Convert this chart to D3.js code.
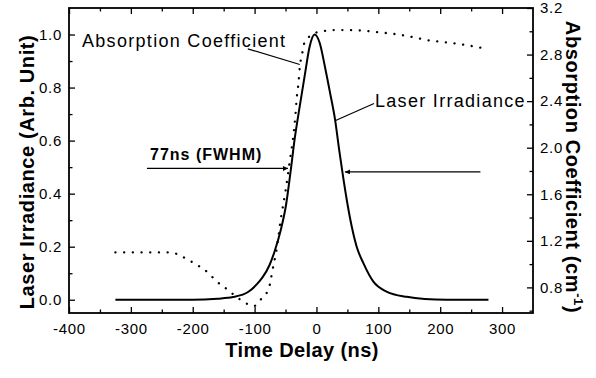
<!DOCTYPE html>
<html>
<head>
<meta charset="utf-8">
<script src="https://cdn.jsdelivr.net/npm/d3@7"></script>
<style>
    body { margin: 0; background: #fff; }
    svg { display: block; font-family: "Liberation Sans", Arial, Helvetica, sans-serif; }
</style>
</head>
<body>
<svg id="chart" width="596" height="378"></svg>
<script>
var width = 596,
    height = 378;
var margin = { top: 8, right: 63, bottom: 65, left: 69 };

// Laser irradiance (left axis)
var laser_time = [-325, -200, -160, -135, -110, -92, -87, -76, -68, -58, -49, -42, -35, -27, -19, -11, -3, 5, 14, 22, 30, 37, 42, 49, 57, 65, 76, 92, 114, 146, 175, 210, 278];
var laser_value = [0, 0, 0.004, 0.01, 0.03, 0.07, 0.085, 0.13, 0.18, 0.26, 0.36, 0.48, 0.61, 0.73, 0.845, 0.955, 1.0, 0.97, 0.875, 0.78, 0.68, 0.56, 0.48, 0.376, 0.276, 0.2, 0.137, 0.068, 0.03, 0.011, 0.003, 0, 0];

// Absorption coefficient (right axis, cm^-1)
var absorb_time = [-325, -235, -219, -205, -189, -176, -161, -146, -132, -116, -101, -88, -77, -74, -71, -65, -57, -50, -43, -37, -34, -32, -29, -27, -23, -19, -10, 0, 10, 24, 54, 103, 135, 156, 184, 200, 232, 274];
var absorb_value = [1.10, 1.10, 1.07, 1.03, 0.98, 0.93, 0.85, 0.79, 0.73, 0.67, 0.64, 0.71, 0.79, 0.86, 0.95, 1.11, 1.41, 1.63, 1.89, 2.12, 2.28, 2.42, 2.56, 2.69, 2.81, 2.91, 2.96, 2.99, 3.00, 3.01, 3.01, 2.99, 2.97, 2.95, 2.92, 2.91, 2.89, 2.85];

// Ticks
var x_ticks = [-400, -300, -200, -100, 0, 100, 200, 300];
var x_minor = [-350, -250, -150, -50, 50, 150, 250];
var left_ticks = [0.0, 0.2, 0.4, 0.6, 0.8, 1.0];
var left_minor = [0.1, 0.3, 0.5, 0.7, 0.9];
var right_ticks = [0.8, 1.2, 1.6, 2.0, 2.4, 2.8, 3.2];
var right_minor = [0.6, 1.0, 1.4, 1.8, 2.2, 2.6, 3.0];

// FWHM arrows and leader lines, in data units (time, left-axis value)
var fwhm_arrows = [
    { from: [-274, 0.495], to: [-46, 0.495] },
    { from: [265, 0.482], to: [46, 0.482] }
];
var leaders = [
    { from: [-111, 0.946], to: [-27, 0.887] },
    { from: [93, 0.74], to: [30, 0.675] }
];

var x = d3.scaleLinear().domain([-400, 350]).range([margin.left, width - margin.right]);
var yLeft = d3.scaleLinear().domain([-0.05, 1.1]).range([height - margin.bottom, margin.top]);
var yRight = d3.scaleLinear().domain([0.58, 3.2]).range([height - margin.bottom, margin.top]);

var svg = d3.select("#chart");

svg.append("defs").append("marker")
    .attr("id", "arrow")
    .attr("viewBox", "0 0 10 10")
    .attr("refX", 10)
    .attr("refY", 5)
    .attr("markerWidth", 7)
    .attr("markerHeight", 5)
    .attr("markerUnits", "userSpaceOnUse")
    .attr("orient", "auto")
    .append("path")
    .attr("d", "M0,0L10,5L0,10Z")
    .attr("fill", "#000");

// Axes: major and minor ticks all pointing inward
function styleAxis(g) {
    g.select(".domain").remove();
    g.selectAll("line").attr("stroke", "#000").attr("stroke-width", 1.3);
    g.selectAll("text")
        .attr("fill", "#000")
        .style("font-size", "15px")
        .style("letter-spacing", "0.7px");
}

function plain(d) {
    return String(d);
}

var bottom = height - margin.bottom;
var top_y = margin.top;

svg.append("g").attr("transform", "translate(0," + bottom + ")")
    .call(d3.axisBottom(x).tickValues(x_ticks).tickSize(-6).tickPadding(10).tickFormat(plain))
    .call(styleAxis);
svg.append("g").attr("transform", "translate(0," + bottom + ")")
    .call(d3.axisBottom(x).tickValues(x_minor).tickSize(-3.5).tickFormat(""))
    .call(styleAxis);
svg.append("g").attr("transform", "translate(0," + top_y + ")")
    .call(d3.axisTop(x).tickValues(x_ticks).tickSize(-6).tickFormat(""))
    .call(styleAxis);
svg.append("g").attr("transform", "translate(0," + top_y + ")")
    .call(d3.axisTop(x).tickValues(x_minor).tickSize(-3.5).tickFormat(""))
    .call(styleAxis);

svg.append("g").attr("transform", "translate(" + margin.left + ",0)")
    .call(d3.axisLeft(yLeft).tickValues(left_ticks).tickSize(-6).tickPadding(7).tickFormat(d3.format(".1f")))
    .call(styleAxis);
svg.append("g").attr("transform", "translate(" + margin.left + ",0)")
    .call(d3.axisLeft(yLeft).tickValues(left_minor).tickSize(-3.5).tickFormat(""))
    .call(styleAxis);

svg.append("g").attr("transform", "translate(" + (width - margin.right) + ",0)")
    .call(d3.axisRight(yRight).tickValues(right_ticks).tickSize(-6).tickPadding(7).tickFormat(d3.format(".1f")))
    .call(styleAxis);
svg.append("g").attr("transform", "translate(" + (width - margin.right) + ",0)")
    .call(d3.axisRight(yRight).tickValues(right_minor).tickSize(-3.5).tickFormat(""))
    .call(styleAxis);

// Frame
svg.append("rect")
    .attr("x", margin.left)
    .attr("y", margin.top)
    .attr("width", width - margin.left - margin.right)
    .attr("height", height - margin.top - margin.bottom)
    .attr("fill", "none")
    .attr("stroke", "#000")
    .attr("stroke-width", 1.8);

// Curves
var laser_line = d3.line()
    .x(function (d, i) { return x(laser_time[i]); })
    .y(function (d) { return yLeft(d); })
    .curve(d3.curveMonotoneX);

svg.append("path")
    .datum(laser_value)
    .attr("d", laser_line)
    .attr("fill", "none")
    .attr("stroke", "#000")
    .attr("stroke-width", 2);

var absorb_line = d3.line()
    .x(function (d, i) { return x(absorb_time[i]); })
    .y(function (d) { return yRight(d); })
    .curve(d3.curveMonotoneX);

svg.append("path")
    .datum(absorb_value)
    .attr("d", absorb_line)
    .attr("fill", "none")
    .attr("stroke", "#000")
    .attr("stroke-width", 2.3)
    .attr("stroke-linecap", "round")
    .attr("stroke-dasharray", "0.1,8.6");

// FWHM arrows
svg.selectAll(".fwhm")
    .data(fwhm_arrows)
    .join("line")
    .attr("class", "fwhm")
    .attr("x1", function (d) { return x(d.from[0]); })
    .attr("y1", function (d) { return yLeft(d.from[1]); })
    .attr("x2", function (d) { return x(d.to[0]); })
    .attr("y2", function (d) { return yLeft(d.to[1]); })
    .attr("stroke", "#000")
    .attr("stroke-width", 1.2)
    .attr("marker-end", "url(#arrow)");

svg.selectAll(".leader")
    .data(leaders)
    .join("line")
    .attr("class", "leader")
    .attr("x1", function (d) { return x(d.from[0]); })
    .attr("y1", function (d) { return yLeft(d.from[1]); })
    .attr("x2", function (d) { return x(d.to[0]); })
    .attr("y2", function (d) { return yLeft(d.to[1]); })
    .attr("stroke", "#000")
    .attr("stroke-width", 1.2);

// Annotation texts
svg.append("text")
    .attr("x", 82)
    .attr("y", 47)
    .style("font-size", "18px")
    .style("letter-spacing", "1.3px")
    .text("Absorption Coefficient");

svg.append("text")
    .attr("x", 375)
    .attr("y", 107)
    .style("font-size", "18px")
    .style("letter-spacing", "1.3px")
    .text("Laser Irradiance");

svg.append("text")
    .attr("x", 150)
    .attr("y", 159.5)
    .style("font-size", "16px")
    .style("font-weight", "bold")
    .style("letter-spacing", "1px")
    .text("77ns (FWHM)");

// Axis titles
svg.append("text")
    .attr("x", 302)
    .attr("y", 357)
    .attr("text-anchor", "middle")
    .style("font-size", "20px")
    .style("font-weight", "bold")
    .style("letter-spacing", "0.4px")
    .text("Time Delay (ns)");

svg.append("text")
    .attr("transform", "translate(34,172) rotate(-90)")
    .attr("text-anchor", "middle")
    .style("font-size", "20px")
    .style("font-weight", "bold")
    .style("letter-spacing", "0.6px")
    .text("Laser Irradiance (Arb. Unit)");

var right_title = svg.append("text")
    .attr("transform", "translate(566,167) rotate(90)")
    .attr("text-anchor", "middle")
    .style("font-size", "20px")
    .style("font-weight", "bold")
    .style("letter-spacing", "0.6px");
right_title.append("tspan").text("Absorption Coefficient (cm");
right_title.append("tspan")
    .attr("dy", -8)
    .style("font-size", "13px")
    .text("-1");
right_title.append("tspan")
    .attr("dy", 8)
    .text(")");
</script>
</body>
</html>
